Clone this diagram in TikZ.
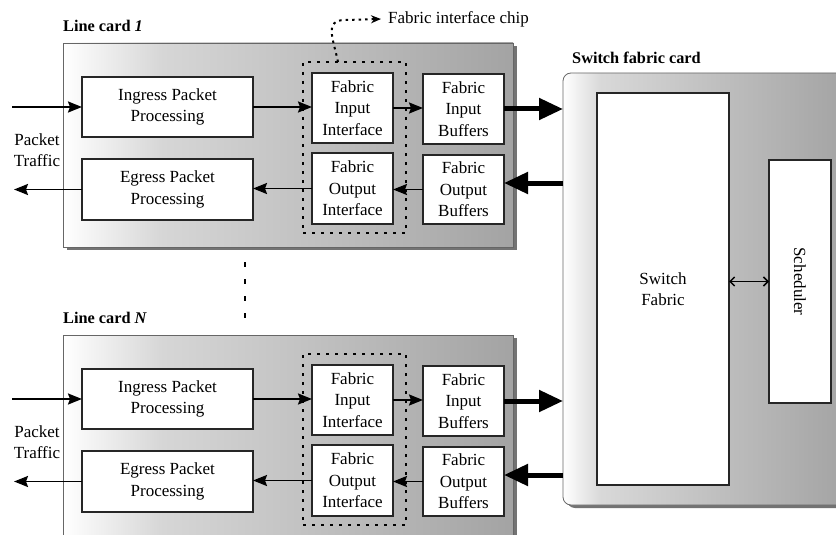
\documentclass[tikz,border=0pt]{standalone}
\usepackage{fontspec}
\setmainfont{Liberation Serif}
\usetikzlibrary{arrows.meta,shadows,calc}
\pgfdeclarehorizontalshading{lcshade}{100bp}{color(0bp)=(white); color(25bp)=(white); color(36bp)=(black!16); color(50bp)=(black!23); color(75bp)=(black!36); color(100bp)=(black!36)}
\pgfdeclarehorizontalshading{sfshade}{100bp}{color(0bp)=(white); color(25bp)=(white); color(31bp)=(black!15); color(50bp)=(black!25); color(75bp)=(black!38); color(100bp)=(black!38)}
\begin{document}
\begin{tikzpicture}[x=1pt,y=-1pt,
  txt/.style={font=\fontsize{17}{21.5}\selectfont, align=center},
  card/.style={draw=black!60, line width=0.8pt, shading=lcshade,
    inner sep=0pt, outer sep=0pt, general shadow={fill=black!55, shadow xshift=4pt, shadow yshift=-3pt}},
  blk/.style={draw=black!85, line width=1.5pt, fill=white, inner sep=0pt, outer sep=0pt, txt},
  chipbox/.style={draw=black, line width=2.4pt, dash pattern=on 3pt off 6pt, inner sep=0pt, outer sep=0pt},
  sarrow/.style={line width=1.9pt, -{Stealth[length=14pt,width=11pt,inset=2pt]}},
  barrow/.style={line width=5pt, -{Triangle[length=24pt,width=21pt]}},
  lbl/.style={font=\fontsize{16.3}{18}\selectfont\bfseries, anchor=west, inner sep=0pt},
]
\useasboundingbox (0,0) rectangle (836,535);
\clip (0,0) rectangle (836,535);

% switch fabric card
\node[card, shading=sfshade, rounded corners=8pt, minimum width=307pt, minimum height=432pt] (sfc) at (716.5,289) {};
\node[lbl] (sfclbl) at (572,58) {Switch fabric card};
\node[blk, minimum width=132pt, minimum height=392pt] (sf) at (663,289) {Switch\\Fabric};
\node[blk, minimum width=243pt, minimum height=62pt, rotate=-90] (sch) at (800,281.5) {Scheduler};
\draw[line width=1.5pt, {Straight Barb[length=4.5pt,width=9pt]}-{Straight Barb[length=4.5pt,width=9pt]}] (sch.south) -- (sch.south -| sf.east);

% line cards
\foreach \p/\d in {a/0, b/292} {
  \node[card, minimum width=450pt, minimum height=204pt] (\p-card) at (288,145+\d) {};
  \node[chipbox, minimum width=103pt, minimum height=171pt] (\p-chip) at (354.5,147.5+\d) {};
  \node[blk, minimum width=171pt, minimum height=60pt] (\p-ing) at (167.5,107+\d) {Ingress Packet\\Processing};
  \node[blk, minimum width=171pt, minimum height=61pt] (\p-eg) at (167.5,189.5+\d) {Egress Packet\\Processing};
  \node[blk, minimum width=81pt, minimum height=70pt] (\p-fii) at (352.5,108+\d) {Fabric\\Input\\Interface};
  \node[blk, minimum width=81pt, minimum height=71pt] (\p-foi) at (352.5,188.5+\d) {Fabric\\Output\\Interface};
  \node[blk, minimum width=81pt, minimum height=70pt] (\p-fib) at (463.5,109+\d) {Fabric\\Input\\Buffers};
  \node[blk, minimum width=81pt, minimum height=69pt] (\p-fob) at (463.5,189.5+\d) {Fabric\\Output\\Buffers};
  \node[txt, inner sep=0pt] (\p-pt) at (37,150+\d) {Packet\\Traffic};
  \coordinate (\p-in) at (12,107+\d);
  \coordinate (\p-out) at (14,189.5+\d);
  \draw[sarrow] (\p-in) -- (\p-ing.west);
  \draw[sarrow] (\p-ing.east) -- (\p-ing.east -| \p-fii.west);
  \draw[sarrow] (\p-fii.east) -- (\p-fii.east -| \p-fib.west);
  \draw[sarrow] (\p-fob.west) -- (\p-fob.west -| \p-foi.east);
  \draw[sarrow] (\p-foi.west) -- (\p-foi.west -| \p-eg.east);
  \draw[sarrow] (\p-eg.west) -- (\p-out);
  \draw[barrow] (\p-fib.east) -- (\p-fib.east -| sfc.west);
  \draw[barrow] ([yshift=6.5pt]\p-fob.east -| sfc.west) -- ([yshift=6.5pt]\p-fob.east);
}
\node[lbl] (alabel) at (63,26) {Line card \textit{1}};
\node[lbl] (blabel) at (63,318) {Line card \textit{N}};

% fabric interface chip callout
\node[txt, anchor=west, inner sep=0pt] (chiplbl) at (388,19) {Fabric interface chip};
\coordinate (chiptop) at ([xshift=-16.5pt]a-chip.north);
\draw[line width=2pt, dash pattern=on 2.5pt off 4pt, -{Stealth[length=10pt,width=8pt]}]
  (chiptop) .. controls (333,38) and (324,20) .. (345,20) -- ([xshift=-7pt]chiplbl.west);

% dots between line cards
\coordinate (dtop) at (245,262);
\coordinate (dbot) at (245,320);
\draw[line width=2.6pt, dash pattern=on 5pt off 12pt] (dtop) -- (dbot);
\end{tikzpicture}
\end{document}
